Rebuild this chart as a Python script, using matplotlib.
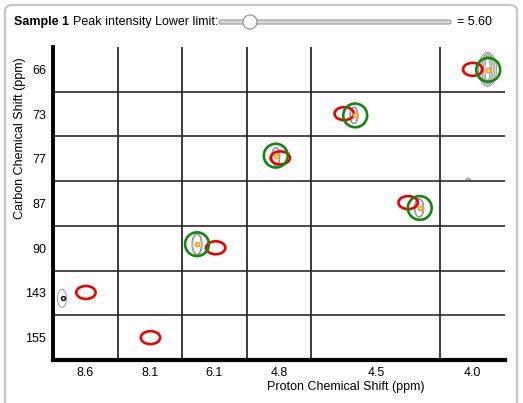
import matplotlib
matplotlib.use('Agg')
import matplotlib.pyplot as plt
from matplotlib.patches import Ellipse, FancyBboxPatch

plt.rcParams['font.family'] = ['Liberation Sans', 'DejaVu Sans']

# categories
proton_labels = ['8.6', '8.1', '6.1', '4.8', '4.5', '4.0']
proton_widths = [1, 1, 1, 1, 2, 1]
carbon_labels = ['66', '73', '77', '87', '90', '143', '155']

# expected peaks (red), in axis units: x = column position, y = row position
red_x = [6.50, 4.51, 5.50, 3.52, 2.52, 0.51, 1.51]
red_y = [0.50, 1.49, 3.48, 2.48, 4.49, 5.49, 6.50]

# observed peaks (green circle + orange centre)
green_x = [6.74, 4.68, 5.68, 3.45, 2.23]
green_y = [0.51, 1.53, 3.60, 2.43, 4.41]

# contour blobs: centre, outer width / height (axis units), number of levels
cont_x = [6.73, 4.66, 5.67, 3.45, 2.23, 0.14, 6.43]
cont_y = [0.50, 1.53, 3.60, 2.45, 4.41, 5.62, 2.95]
cont_w = [0.28, 0.13, 0.15, 0.13, 0.16, 0.14, 0.07]
cont_h = [0.76, 0.38, 0.42, 0.42, 0.48, 0.40, 0.04]
cont_n = [5, 2, 2, 2, 2, 1, 1]

limit_value = 5.60

W, H = 523, 403
FS = 9
fig = plt.figure(figsize=(W / 100, H / 100), dpi=100)


def fx(px):
    return px / W


def fy(py):
    return 1 - py / H


# panel frame
fig.patches.append(FancyBboxPatch((fx(5), fy(430)), fx(512), 425 / H,
                                  boxstyle='round,pad=0,rounding_size=0.015',
                                  transform=fig.transFigure, fc='white',
                                  ec='#c6c6c6', lw=1.6, zorder=-5))

ax = fig.add_axes([fx(53), fy(360), fx(452), 313 / H])
ax.set_facecolor('none')

edges = [0]
for w in proton_widths:
    edges.append(edges[-1] + w)
centres = [(a + b) / 2 for a, b in zip(edges[:-1], edges[1:])]

ax.set_xlim(0, edges[-1])
ax.set_ylim(len(carbon_labels), 0)

for e in edges[1:-1]:
    ax.axvline(e, color='#1a1a1a', lw=1.2, zorder=1)
for r in range(1, len(carbon_labels)):
    ax.axhline(r, color='#2a2a2a', lw=1.2, zorder=1)

ax.set_xticks(centres)
ax.set_xticklabels(proton_labels, fontsize=FS)
ax.set_yticks([r + 0.5 for r in range(len(carbon_labels))])
ax.set_yticklabels(carbon_labels, fontsize=FS)
ax.tick_params(length=0, pad=5)
ax.spines['top'].set_visible(False)
ax.spines['right'].set_visible(False)
ax.spines['left'].set_linewidth(2.8)
ax.spines['bottom'].set_linewidth(3.0)

# contours
for x, y, w, h, n in zip(cont_x, cont_y, cont_w, cont_h, cont_n):
    for k in range(n):
        s = 1 - k * 0.18
        ax.add_patch(Ellipse((x, y), w * s, h * (1 - k * 0.08), fill=False,
                             ec='#8a8a8a', lw=0.6, zorder=2))

# red expected peaks
for x, y in zip(red_x, red_y):
    ax.add_patch(Ellipse((x, y), 0.30, 0.29, fill=False, ec='#ee0000',
                         lw=1.9, zorder=3))

# green observed peaks
for x, y in zip(green_x, green_y):
    ax.add_patch(Ellipse((x, y), 0.37, 0.53, fill=False, ec='#118811',
                         lw=1.9, zorder=4))
ax.scatter(green_x, green_y, s=10, facecolor='#fcd9a0', edgecolor='#f39c12',
           lw=1.0, zorder=5)
ax.scatter([cont_x[5] + 0.02], [cont_y[5]], s=8, facecolor='white',
           edgecolor='black', lw=1.0, zorder=5)

# labels
fig.text(fx(346), fy(387), 'Proton Chemical Shift (ppm)', ha='center',
         va='center', fontsize=FS)
fig.text(fx(20), fy(138), 'Carbon Chemical Shift (ppm)', ha='center',
         va='center', rotation=90, fontsize=FS)

# header with slider
fig.text(fx(14), fy(22), 'Sample 1', fontweight='bold', fontsize=FS,
         va='center')
fig.text(fx(73), fy(22), 'Peak intensity Lower limit:', fontsize=FS,
         va='center')
fig.patches.append(FancyBboxPatch((fx(219), fy(24)), fx(232), 4 / H,
                                  boxstyle='round,pad=0,rounding_size=0.004',
                                  transform=fig.transFigure, fc='#d8d8d8',
                                  ec='#9a9a9a', lw=0.8, zorder=2))
fig.patches.append(Ellipse((fx(250), fy(22)), 14 / W, 14 / H,
                           transform=fig.transFigure, fc='#fafafa',
                           ec='#8a8a8a', lw=0.8, zorder=3))
fig.text(fx(457), fy(22), f'= {limit_value:.2f}', fontsize=FS, va='center')

plt.savefig('out.png', dpi=100)
